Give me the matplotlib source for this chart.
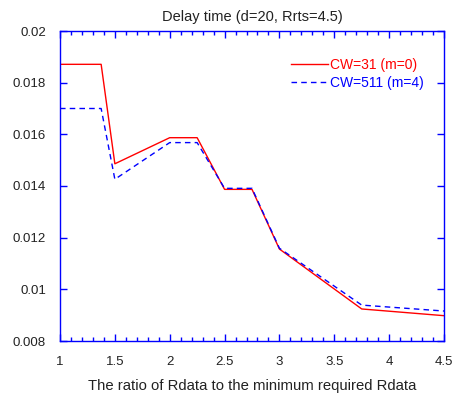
import matplotlib
matplotlib.use("Agg")
import matplotlib.pyplot as plt
from matplotlib.ticker import MultipleLocator

plt.rcParams['font.family'] = ['Liberation Sans', 'DejaVu Sans']

x = [1, 1.375, 1.5, 2, 2.25, 2.5, 2.75, 3, 3.75, 4.5]
cw31 = [0.01871, 0.01871, 0.01486, 0.01587, 0.01587, 0.01387, 0.01387, 0.01156, 0.00924, 0.00898]
cw511 = [0.01700, 0.01700, 0.01426, 0.01568, 0.01568, 0.01391, 0.01391, 0.01159, 0.00939, 0.00916]

xticks = [1, 1.5, 2, 2.5, 3, 3.5, 4, 4.5]
xticklabels = ['1', '1.5', '2', '2.5', '3', '3.5', '4', '4.5']
yticks = [0.008, 0.01, 0.012, 0.014, 0.016, 0.018, 0.02]
yticklabels = ['0.008', '0.01', '0.012', '0.014', '0.016', '0.018', '0.02']

fig = plt.figure(figsize=(4.66, 3.93), dpi=100)
ax = fig.add_axes([60/466, 1-341/393, 384/466, 310/393])

ax.plot(x, cw31, color='red', lw=1.0, label='CW=31 (m=0)')
ax.plot(x, cw511, color='blue', lw=1.0, ls=(0, (4, 3)), label='CW=511 (m=4)')

ax.set_xlim(1, 4.5)
ax.set_ylim(0.008, 0.02)
ax.set_xticks(xticks)
ax.set_xticklabels(xticklabels)
ax.set_yticks(yticks)
ax.set_yticklabels(yticklabels)
ax.xaxis.set_minor_locator(MultipleLocator(0.1))

for s in ax.spines.values():
    s.set_color('blue')
    s.set_linewidth(1.0)

ax.tick_params(axis='both', which='both', direction='in', colors='blue',
               labelcolor='#222222', labelsize=9.5, top=True, right=True)
ax.tick_params(axis='both', which='major', length=5, width=1)
ax.tick_params(axis='x', which='minor', length=3, width=1)
ax.tick_params(axis='x', which='major', pad=11)
ax.tick_params(axis='y', which='major', pad=10)

ax.set_title('Delay time (d=20, Rrts=4.5)', fontsize=10.5, color='#222222', pad=7)
ax.set_xlabel('The ratio of Rdata to the minimum required Rdata', fontsize=10.7, color='#222222', labelpad=8)

leg = ax.legend(loc='upper left', bbox_to_anchor=((293-60)/384 - 0.02, 1 - (52-31)/310), frameon=False,
                fontsize=10, handlelength=2.7, handletextpad=0.15, labelspacing=0.3,
                borderaxespad=0)
for t, c in zip(leg.get_texts(), ['red', 'blue']):
    t.set_color(c)

fig.savefig('out.png', dpi=100)
